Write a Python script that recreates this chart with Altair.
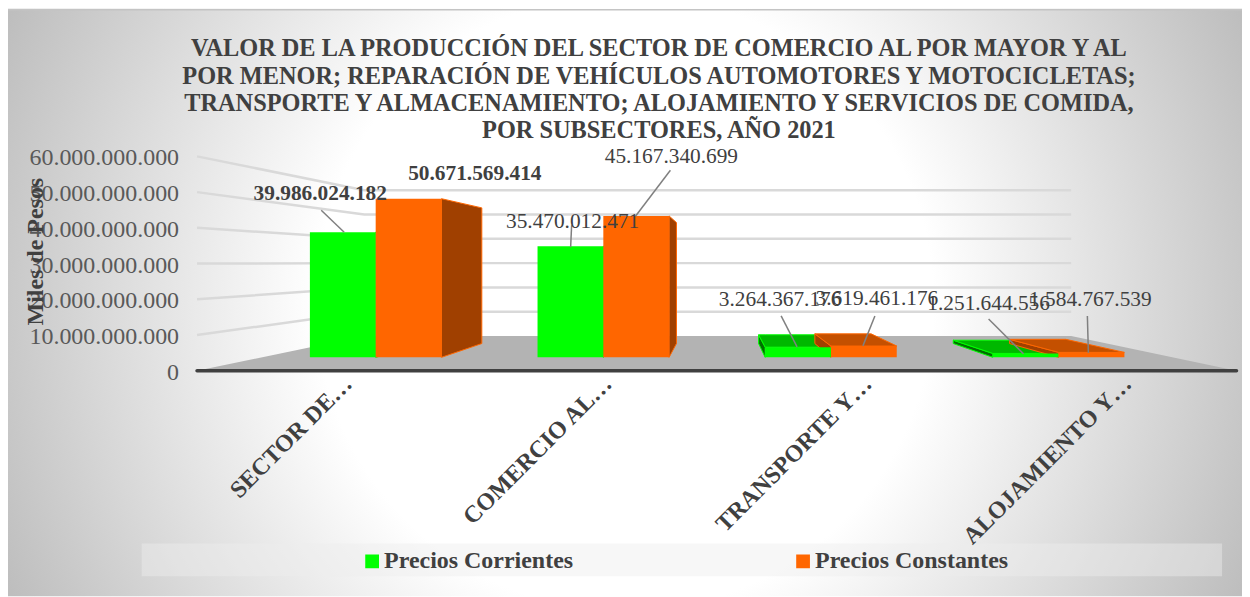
import altair as alt
import pandas as pd

CATEGORIES = ["SECTOR DE…", "COMERCIO AL…", "TRANSPORTE Y…", "ALOJAMIENTO Y…"]
SERIES = ["Precios Corrientes", "Precios Constantes"]
CORRIENTES = [39986024182, 35470012471, 3264367176, 1251644556]
CONSTANTES = [50671569414, 45167340699, 3619461176, 1584767539]
LABELS_A = ["39.986.024.182", "35.470.012.471", "3.264.367.176", "1.251.644.556"]
LABELS_B = ["50.671.569.414", "45.167.340.699", "3.619.461.176", "1.584.767.539"]
TICKS = [0, 10e9, 20e9, 30e9, 40e9, 50e9, 60e9]
TITLE = ["VALOR DE LA PRODUCCIÓN DEL SECTOR DE COMERCIO AL POR MAYOR Y AL",
         "POR MENOR; REPARACIÓN DE VEHÍCULOS AUTOMOTORES Y MOTOCICLETAS;",
         "TRANSPORTE Y ALMACENAMIENTO; ALOJAMIENTO Y SERVICIOS DE COMIDA,",
         "POR SUBSECTORES, AÑO 2021"]

W, H = 1237, 589
PX_C, PX_BN = 260.5, 3.583
X_ZERO, Y_ZERO = 327.75, 371.0          # page position of category 0 / value 0


def c_of(px):
    return (px - X_ZERO) / PX_C


def v_of(py):
    return (Y_ZERO - py) / PX_BN * 1e9


X_DOMAIN = [c_of(8), c_of(8 + W)]
Y_DOMAIN = [v_of(8 + H), v_of(8)]
xs = alt.Scale(domain=X_DOMAIN, range=[0, W], nice=False, zero=False)
ys = alt.Scale(domain=Y_DOMAIN, range=[H, 0], nice=False, zero=False)

AX_X = alt.Axis(
    values=[0, 1, 2, 3], orient="bottom", offset=-(H - (371 - 8)), domain=False, ticks=False, grid=False,
    title=None, labelAngle=-45, labelAlign="right", labelBaseline="middle",
    labelFont="Liberation Serif", labelFontSize=24, labelFontWeight="bold", labelColor="#404040",
    labelPadding=9, labelOffset=21, labelFlush=False, labelOverlap=False, labelLimit=400,
    labelExpr="[" + ",".join(f"'{c}'" for c in CATEGORIES) + "][datum.value]", zindex=1)
AX_Y = alt.Axis(
    values=TICKS, orient="left", offset=-171, domain=False, ticks=False, grid=False,
    labelFont="Liberation Serif", labelFontSize=24, labelColor="#595959", labelPadding=0,
    labelOverlap=False, labelFlush=False, labelOffset=1.5,
    labelExpr="replace(format(datum.value, ','), /,/g, '.')",
    title="Miles de Pesos", titleFont="Liberation Serif", titleFontSize=24, titleFontWeight="bold",
    titleColor="#404040", titleX=-131, titleY=243, titleAngle=270, titleAlign="center", zindex=1)


def XE(f):
    return alt.X(f, scale=xs, axis=AX_X)


def YE(f):
    return alt.Y(f, scale=ys, axis=AX_Y)


# perspective: everything shrinks toward a vanishing point as depth grows
VC, VV = c_of(721.5), v_of(262)
S_FRONT, S_BACK, S_WALL = 0.876, 0.749, 0.68
BAR_W = 0.289


def P(c, v, s):
    return VC + s * (c - VC), VV + s * (v - VV)


def polygon(pts):
    """Convex polygon -> upper/lower envelope for an area mark."""
    xs_ = sorted({p[0] for p in pts})
    n = len(pts)
    rows = []
    for x in xs_:
        hits = []
        for i in range(n):
            a, b = pts[i], pts[(i + 1) % n]
            lo, hi = min(a[0], b[0]), max(a[0], b[0])
            if lo <= x <= hi:
                if a[0] == b[0]:
                    hits += [a[1], b[1]]
                else:
                    hits.append(a[1] + (b[1] - a[1]) * (x - a[0]) / (b[0] - a[0]))
        rows.append({"c": x, "v": min(hits), "v2": max(hits)})
    return pd.DataFrame(rows)


def area(pts, fill, stroke=None):
    kw = {"color": fill, "opacity": 1}
    if stroke:
        kw.update(stroke=stroke, strokeWidth=1)
    return alt.Chart(polygon(pts)).mark_area(**kw).encode(x=XE("c:Q"), y=YE("v:Q"), y2="v2:Q")


def line(points, color, width, **kw):
    d = pd.DataFrame([{"c": p[0], "v": p[1], "o": i} for i, p in enumerate(points)])
    return alt.Chart(d).mark_line(color=color, strokeWidth=width, **kw).encode(
        x=XE("c:Q"), y=YE("v:Q"), order="o:Q")


GREEN, ORANGE = "#00ff00", "#ff6600"
GREEN_TOP, ORANGE_TOP = "#00b800", "#c45000"
GREEN_SIDE, ORANGE_SIDE = "#007000", "#a04000"
GRID = "#d9d9d9"

layers = []

# gradient background
bg = alt.Chart(pd.DataFrame({"a": [0]})).mark_rect(
    color={"gradient": "radial", "x1": 0.5, "y1": 0.5, "x2": 0.5, "y2": 0.5,
           "r1": 0.25, "r2": 0.55,
           "stops": [{"offset": 0, "color": "#ffffff"},
                     {"offset": 1, "color": "#bebebe"}]}
).encode(x=alt.value(0), x2=alt.value(W), y=alt.value(0), y2=alt.value(H))
layers.append(bg)
layers.append(line([(c_of(8), v_of(9)), (c_of(8 + W), v_of(9))], "#c4c4c4", 1.5))

# legend band
band = alt.Chart(pd.DataFrame({"a": [c_of(142)], "b": [c_of(1225)],
                               "t": [v_of(544)], "u": [v_of(577)]})).mark_rect(
    color="#ededed", opacity=0.45
).encode(x=XE("a:Q"), x2="b:Q", y=YE("t:Q"), y2="u:Q")
layers.append(band)

# walls' gridlines
for t in TICKS[1:]:
    layers.append(line([P(-0.5, t, 1), P(-0.5, t, S_WALL), P(3.5, t, S_WALL)], GRID, 2.5))

# floor
layers.append(area([P(-0.5, 0, 1), P(3.5, 0, 1), P(3.5, 0, S_WALL), P(-0.5, 0, S_WALL)], "#b3b3b3"))

# 3-D faces
fronts = []
for i, (a, b) in enumerate(zip(CORRIENTES, CONSTANTES)):
    for name, v, left, fill, top, side in (
        (SERIES[0], a, i - BAR_W, GREEN, GREEN_TOP, GREEN_SIDE),
        (SERIES[1], b, i, ORANGE, ORANGE_TOP, ORANGE_SIDE),
    ):
        right = left + BAR_W
        edge = right if i < 2 else left
        sf = [P(edge, v, S_FRONT), P(edge, v, S_BACK), P(edge, 0, S_BACK), P(edge, 0, S_FRONT)]
        layers.append(area(sf, side, fill))
        if v < VV:  # the top face is only seen on bars below eye level
            tf = [P(left, v, S_FRONT), P(right, v, S_FRONT), P(right, v, S_BACK), P(left, v, S_BACK)]
            layers.append(area(tf, top, fill))
        (l0, t0), (r0, b0) = P(left, v, S_FRONT), P(right, 0, S_FRONT)
        fronts.append({"serie": name, "l": l0, "r": r0, "t": t0, "b": b0})

front = alt.Chart(pd.DataFrame(fronts)).mark_rect().encode(
    x=XE("l:Q"), x2="r:Q", y=YE("t:Q"), y2="b:Q",
    color=alt.Color("serie:N", scale=alt.Scale(domain=SERIES, range=[GREEN, ORANGE]),
                    legend=alt.Legend(orient="none", legendX=353, legendY=542, direction="horizontal",
                                      title=None, symbolType="square", symbolSize=190,
                                      symbolStrokeWidth=0, symbolOpacity=1,
                                      labelFont="Liberation Serif", labelFontSize=24,
                                      labelFontWeight="bold", labelColor="#404040",
                                      labelLimit=300, columns=2, columnPadding=218, labelOffset=0)),
)
layers.append(front)

# baseline
layers.append(line([(-0.5, 0), (3.5, 0)], "#404040", 3.5, strokeCap="round"))

# leader lines and data labels (label anchor + bar end, page-read)
LEAD_FROM = [(322, 210), (573, 225), (783, 316), (991, 319), None, (672, 170), (877, 316), (1090, 316)]
LEAD_TO = [(345, 232), (572, 247), (799, 347), (1026, 354), None, (637, 216), (865, 346), (1091, 353)]
for f, t in zip(LEAD_FROM, LEAD_TO):
    if f:
        layers.append(line([(c_of(f[0]), v_of(f[1])), (c_of(t[0]), v_of(t[1]))], "#808080", 1.5))

LABEL_POS = [(321, 194), (574, 222), (782, 300), (991, 304), (476, 174), (673, 157), (879, 299), (1093, 300)]
TEXTS = LABELS_A + LABELS_B
for k, (txt, pos) in enumerate(zip(TEXTS, LABEL_POS)):
    bold = k in (0, 4)
    d = pd.DataFrame({"c": [c_of(pos[0])], "v": [v_of(pos[1])], "t": [txt]})
    layers.append(alt.Chart(d).mark_text(
        font="Liberation Serif", fontSize=21.4, color="#404040",
        fontWeight="bold" if bold else "normal", align="center", baseline="middle",
    ).encode(x=XE("c:Q"), y=YE("v:Q"), text="t:N"))

chart = alt.layer(*layers).properties(
    width=W, height=H, padding=0, autosize=alt.AutoSizeParams(type="none"),
    background="#ffffff",
    title=alt.TitleParams(TITLE, font="Liberation Serif", fontSize=24.4, fontWeight="bold", color="#404040",
                          lineHeight=27.3, anchor="middle", frame="group", orient="top", dx=34, offset=-137),
).configure_view(stroke=None)

chart.save("out.html", embed_options={"renderer": "svg", "actions": False})
